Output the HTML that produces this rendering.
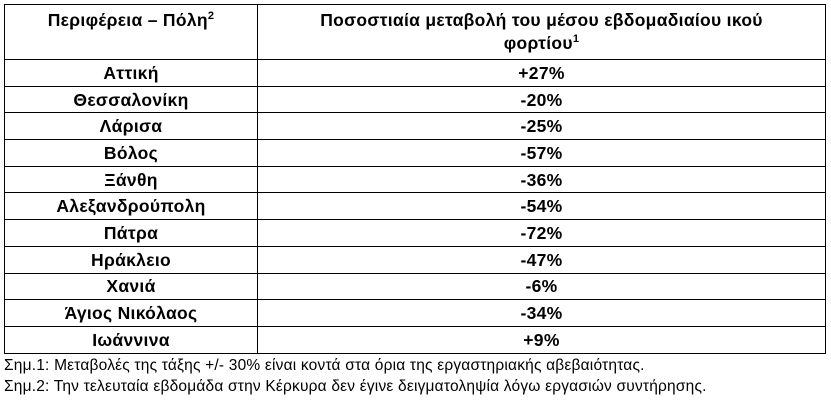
<!DOCTYPE html>
<html><head><meta charset="utf-8"><style>
body{margin:0;background:#fff;width:831px;height:402px;overflow:hidden;font-family:"Liberation Sans","DejaVu Sans",sans-serif;}
table{position:absolute;left:4px;top:4px;border-collapse:collapse;width:822px;table-layout:fixed;}
td{border:1.5px solid #000;text-align:center;font-weight:bold;font-size:17.5px;letter-spacing:0.3px;padding:0;height:25.4px;line-height:20px;color:#000;overflow:hidden;box-sizing:border-box;}
tr.r{height:26.7px;}
tr.h td{height:55px;vertical-align:top;padding-top:4px;line-height:23px;}
td.a{width:253px;}
sup{font-size:11px;line-height:0;}
.n{position:absolute;left:4px;font-size:15.5px;letter-spacing:0.2px;color:#000;white-space:nowrap;}
</style></head><body>
<table>
<tr class="h"><td class="a">Περιφέρεια – Πόλη<sup>2</sup></td><td>Ποσοστιαία μεταβολή του μέσου εβδομαδιαίου ικού<br>φορτίου<sup>1</sup></td></tr>
<tr class="r"><td class="a">Αττική</td><td>+27%</td></tr>
<tr class="r"><td class="a">Θεσσαλονίκη</td><td>-20%</td></tr>
<tr class="r"><td class="a">Λάρισα</td><td>-25%</td></tr>
<tr class="r"><td class="a">Βόλος</td><td>-57%</td></tr>
<tr class="r"><td class="a">Ξάνθη</td><td>-36%</td></tr>
<tr class="r"><td class="a">Αλεξανδρούπολη</td><td>-54%</td></tr>
<tr class="r"><td class="a">Πάτρα</td><td>-72%</td></tr>
<tr class="r"><td class="a">Ηράκλειο</td><td>-47%</td></tr>
<tr class="r"><td class="a">Χανιά</td><td>-6%</td></tr>
<tr class="r"><td class="a">Άγιος Νικόλαος</td><td>-34%</td></tr>
<tr class="r"><td class="a">Ιωάννινα</td><td>+9%</td></tr>
</table>
<div class="n" style="top:357px">Σημ.1: Μεταβολές της τάξης +/- 30% είναι κοντά στα όρια της εργαστηριακής αβεβαιότητας.</div>
<div class="n" style="top:378px">Σημ.2: Την τελευταία εβδομάδα στην Κέρκυρα δεν έγινε δειγματοληψία λόγω εργασιών συντήρησης.</div>
</body></html>
